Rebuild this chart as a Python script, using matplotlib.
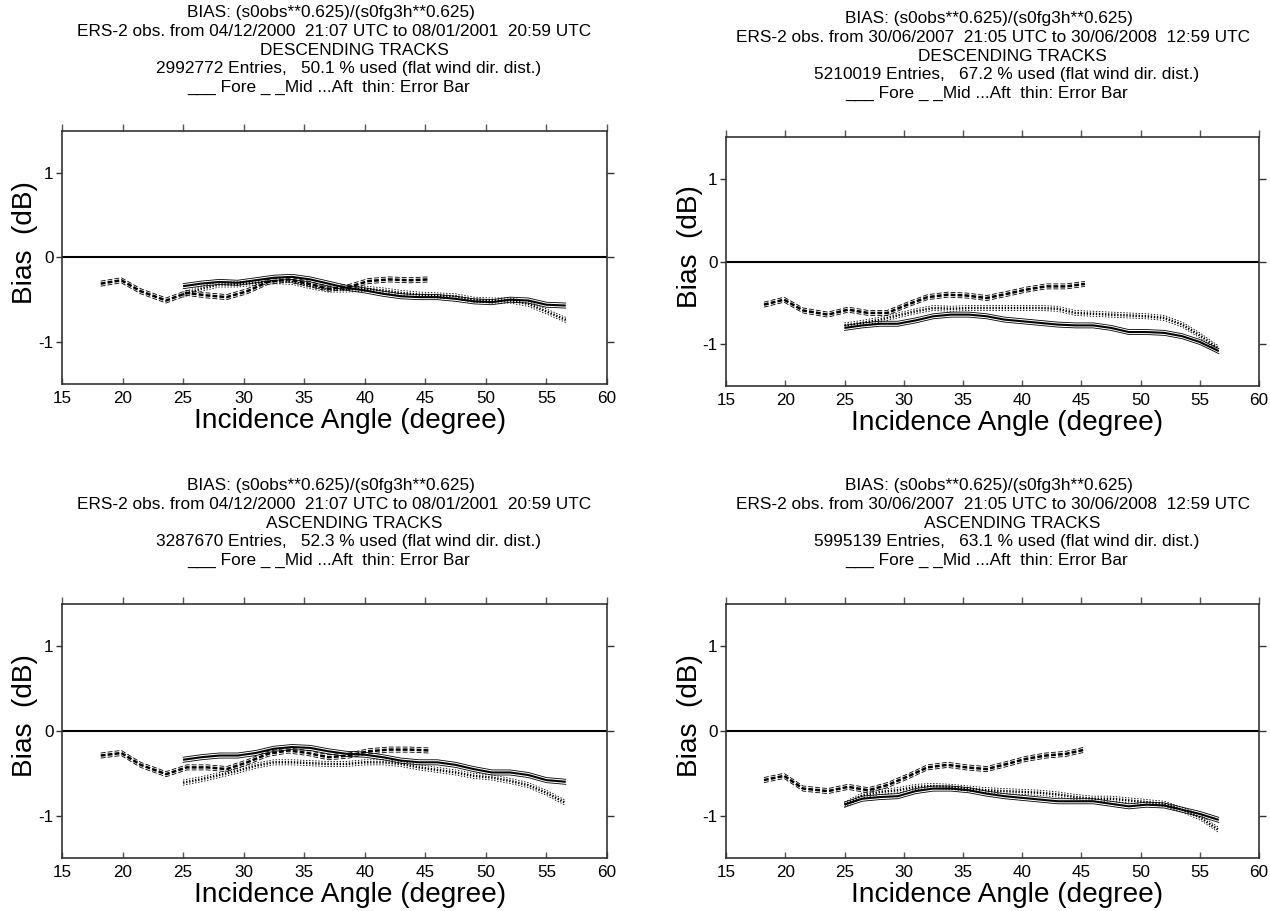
"""Scatterometer bias vs incidence angle, four ERS-2 periods / track directions."""

import matplotlib.pyplot as plt
import numpy as np

plt.rcParams["font.family"] = ["Liberation Sans", "DejaVu Sans"]
plt.rcParams["axes.unicode_minus"] = False
# keep dash/dot patterns in absolute points so the thin error curves line up
# with the mean curve
plt.rcParams["lines.scale_dashes"] = False

# ---------------------------------------------------------------------------
# Data
# ---------------------------------------------------------------------------

FORE_AFT_ANGLE = [25.0, 26.5, 28.0, 29.5, 31.0, 32.5, 34.0, 35.5, 37.0, 38.5, 40.0,
                  41.5, 43.0, 44.5, 46.0, 47.5, 49.0, 50.5, 52.0, 53.5, 55.0, 56.6]
MID_ANGLE = [18.2, 19.9, 21.5, 23.6, 25.3, 27.0, 28.6, 30.3, 32.0, 33.7, 35.3,
             37.0, 38.7, 40.3, 42.0, 43.7, 45.3]

# 2000/2001 descending
DESC_2000_FORE = [-0.34, -0.31, -0.29, -0.30, -0.27, -0.24, -0.23, -0.26, -0.31, -0.36, -0.39,
                  -0.43, -0.46, -0.47, -0.47, -0.49, -0.52, -0.53, -0.50, -0.51, -0.56, -0.57]
DESC_2000_MID = [-0.31, -0.27, -0.40, -0.51, -0.42, -0.45, -0.47, -0.40, -0.29, -0.26, -0.31,
                 -0.37, -0.35, -0.28, -0.26, -0.27, -0.26]
DESC_2000_AFT = [-0.44, -0.37, -0.32, -0.32, -0.30, -0.28, -0.29, -0.34, -0.38, -0.38, -0.37,
                 -0.39, -0.42, -0.44, -0.45, -0.46, -0.50, -0.51, -0.51, -0.55, -0.64, -0.74]

# 2007/2008 descending
DESC_2007_FORE = [-0.80, -0.77, -0.75, -0.75, -0.71, -0.66, -0.64, -0.64, -0.66, -0.70, -0.72,
                  -0.74, -0.76, -0.77, -0.77, -0.80, -0.85, -0.85, -0.86, -0.90, -0.97, -1.08]
DESC_2007_MID = [-0.52, -0.46, -0.59, -0.64, -0.58, -0.62, -0.62, -0.52, -0.43, -0.40, -0.41,
                 -0.44, -0.39, -0.34, -0.30, -0.30, -0.27]
DESC_2007_AFT = [-0.77, -0.74, -0.70, -0.65, -0.60, -0.56, -0.57, -0.56, -0.56, -0.56, -0.56,
                 -0.56, -0.57, -0.62, -0.63, -0.64, -0.65, -0.66, -0.68, -0.76, -0.89, -1.05]

# 2000/2001 ascending
ASC_2000_FORE = [-0.34, -0.31, -0.29, -0.29, -0.26, -0.21, -0.19, -0.20, -0.24, -0.27, -0.28,
                 -0.31, -0.35, -0.37, -0.37, -0.40, -0.45, -0.49, -0.49, -0.52, -0.58, -0.60]
ASC_2000_MID = [-0.29, -0.26, -0.40, -0.51, -0.43, -0.43, -0.45, -0.37, -0.27, -0.23, -0.26,
                -0.31, -0.29, -0.24, -0.22, -0.22, -0.23]
ASC_2000_AFT = [-0.61, -0.57, -0.52, -0.47, -0.41, -0.37, -0.37, -0.38, -0.39, -0.39, -0.37,
                -0.37, -0.39, -0.43, -0.46, -0.49, -0.53, -0.55, -0.59, -0.64, -0.73, -0.85]

# 2007/2008 ascending
ASC_2007_FORE = [-0.87, -0.80, -0.78, -0.77, -0.71, -0.68, -0.68, -0.70, -0.74, -0.77, -0.79,
                 -0.81, -0.83, -0.83, -0.83, -0.86, -0.89, -0.87, -0.88, -0.93, -0.98, -1.05]
ASC_2007_MID = [-0.58, -0.53, -0.68, -0.71, -0.66, -0.70, -0.64, -0.54, -0.43, -0.40, -0.43,
                -0.45, -0.39, -0.33, -0.29, -0.27, -0.22]
ASC_2007_AFT = [-0.87, -0.76, -0.72, -0.70, -0.66, -0.65, -0.66, -0.68, -0.70, -0.71, -0.72,
                -0.73, -0.75, -0.78, -0.80, -0.80, -0.82, -0.84, -0.86, -0.93, -1.02, -1.17]

ERROR_BAR = 0.03

PERIOD_2000 = "ERS-2 obs. from 04/12/2000  21:07 UTC to 08/01/2001  20:59 UTC"
PERIOD_2007 = "ERS-2 obs. from 30/06/2007  21:05 UTC to 30/06/2008  12:59 UTC"
BIAS_LINE = "BIAS: (s0obs**0.625)/(s0fg3h**0.625)"
KEY_LINE = "___ Fore _ _Mid ...Aft  thin: Error Bar"

PANELS = [
    dict(period=PERIOD_2000, tracks="DESCENDING TRACKS", entries="2992772", used="50.1",
         fore=DESC_2000_FORE, mid=DESC_2000_MID, aft=DESC_2000_AFT),
    dict(period=PERIOD_2007, tracks="DESCENDING TRACKS", entries="5210019", used="67.2",
         fore=DESC_2007_FORE, mid=DESC_2007_MID, aft=DESC_2007_AFT),
    dict(period=PERIOD_2000, tracks="ASCENDING TRACKS", entries="3287670", used="52.3",
         fore=ASC_2000_FORE, mid=ASC_2000_MID, aft=ASC_2000_AFT),
    dict(period=PERIOD_2007, tracks="ASCENDING TRACKS", entries="5995139", used="63.1",
         fore=ASC_2007_FORE, mid=ASC_2007_MID, aft=ASC_2007_AFT),
]

# axes rectangles in figure fraction (left, bottom, width, height)
AXES_RECTS = [
    [0.0488, 0.5785, 0.4291, 0.2777],
    [0.5717, 0.5763, 0.4197, 0.2733],
    [0.0488, 0.0582, 0.4291, 0.2788],
    [0.5717, 0.0582, 0.4197, 0.2788],
]

# header lines: horizontal centre (axes fraction) and height above the frame (points)
HEADER_X = [0.493, 0.5, 0.537, 0.526, 0.489]
HEADER_DY = [85.0, 71.6, 58.3, 45.0, 31.7]


def draw_beam(ax, x, y, linestyle, lw_main):
    """Beam mean curve with thin upper/lower error-bar curves."""
    y = np.asarray(y)
    ax.plot(x, y, color="black", lw=lw_main, linestyle=linestyle,
            solid_capstyle="butt", dash_capstyle="butt")
    for sign in (1, -1):
        ax.plot(x, y + sign * ERROR_BAR, color="black", lw=0.6, linestyle=linestyle,
                dash_capstyle="butt")


def draw_panel(ax, panel):
    ax.set_xlim(15, 60)
    ax.set_ylim(-1.5, 1.5)
    ax.set_xticks(range(15, 61, 5))
    ax.set_yticks([-1, 0, 1])
    ax.tick_params(axis="x", direction="in", length=4, width=1, labelsize=12.3, pad=5,
                   color="#555555")
    ax.tick_params(axis="y", direction="out", length=4, width=1, labelsize=12.3, pad=2,
                   color="#333333")
    for spine in ax.spines.values():
        spine.set_linewidth(1.2)
        spine.set_color("#333333")

    top = ax.secondary_xaxis("top")
    top.set_xticks(range(15, 61, 5))
    top.tick_params(direction="out", length=5, width=1, labeltop=False, color="#555555")
    top.spines["top"].set_visible(False)
    right = ax.secondary_yaxis("right")
    right.set_yticks([-1, 0, 1])
    right.tick_params(direction="out", length=5, width=1, labelright=False, color="#333333")
    right.spines["right"].set_visible(False)

    ax.axhline(0, color="black", lw=1.5)

    draw_beam(ax, FORE_AFT_ANGLE, panel["fore"], "-", 1.5)
    draw_beam(ax, MID_ANGLE, panel["mid"], (0, (3.5, 1.5)), 1.8)
    draw_beam(ax, FORE_AFT_ANGLE, panel["aft"], (0, (1.0, 1.2)), 1.8)

    ax.set_xlabel("Incidence Angle (degree)", fontsize=20.2)
    ax.xaxis.set_label_coords(0.528, -0.095)
    ax.set_ylabel("Bias  (dB)", fontsize=20.2)
    ax.yaxis.set_label_coords(-0.044, 0.56)

    lines = [
        BIAS_LINE,
        panel["period"],
        panel["tracks"],
        f"{panel['entries']} Entries,   {panel['used']} % used (flat wind dir. dist.)",
        KEY_LINE,
    ]
    for text, hx, dy in zip(lines, HEADER_X, HEADER_DY):
        ax.annotate(text, xy=(hx, 1.0), xycoords="axes fraction", xytext=(0, dy),
                    textcoords="offset points", ha="center", va="center", fontsize=12.4)


fig = plt.figure(figsize=(12.7, 9.11), dpi=100)
for rect, panel in zip(AXES_RECTS, PANELS):
    draw_panel(fig.add_axes(rect), panel)

fig.savefig("out.png", dpi=100, facecolor="white")
plt.close(fig)
